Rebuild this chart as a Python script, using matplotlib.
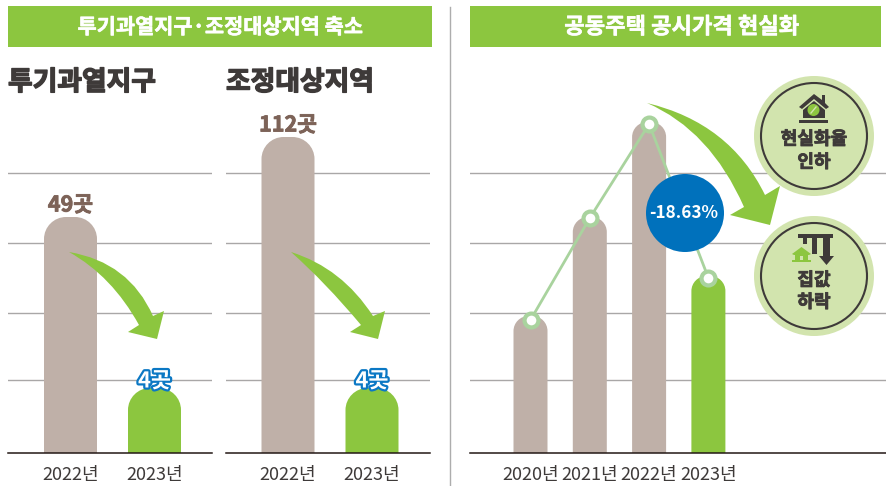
import matplotlib
matplotlib.use('Agg')
import matplotlib.pyplot as plt
import matplotlib.patheffects as pe
from matplotlib.patches import Circle, PathPatch, Polygon, Rectangle
from matplotlib.path import Path

plt.rcParams['font.family'] = ['Noto Sans CJK KR', 'DejaVu Sans']

# left panels
years_short = ['2022년', '2023년']
district_heights = [236, 65]
district_labels = ['49곳', '4곳']
adjust_heights = [316, 65]
adjust_labels = ['112곳', '4곳']

# right panel
years_long = ['2020년', '2021년', '2022년', '2023년']
price_heights = [137, 236, 331, 177]
price_line = [133, 235, 329, 175]

grid_levels = [73, 140, 210, 280]

GREEN = '#8CC63F'
BROWN = '#BFB0A8'
PALE = '#D2E4AE'
BLUE = '#0071BC'
LINE = '#A9D39E'
DARK = '#3E3A39'
LABEL = '#7D6358'

W, H = 887, 486
BASE = 453
TOP = 103

fig = plt.figure(figsize=(W / 100, H / 100), dpi=100)


def heavy(color, lw=0.6):
    return [pe.withStroke(linewidth=lw, foreground=color)]


def panel(x0, x1, first, step):
    ax = fig.add_axes([x0 / W, 1 - BASE / H, (x1 - x0) / W, (BASE - TOP) / H])
    ax.set_xlim((x0 - first) / step, (x1 - first) / step)
    ax.set_ylim(0, BASE - TOP)
    ax.set_yticks(grid_levels)
    ax.grid(axis='y', color='#A9A7A7', lw=1)
    ax.set_axisbelow(True)
    for s in ['left', 'right', 'top']:
        ax.spines[s].set_visible(False)
    ax.spines['bottom'].set_linewidth(1.1)
    ax.spines['bottom'].set_color('#231815')
    ax.tick_params(axis='both', length=0)
    ax.tick_params(axis='y', labelleft=False)
    ax.tick_params(axis='x', pad=9.5, labelsize=13, labelcolor=DARK)
    ax.patch.set_alpha(0)
    return ax


def round_bar(ax, x, h, w, rx, ry, color):
    # bar with a rounded top, in data units
    k = 0.55
    l, r = x - w / 2, x + w / 2
    verts = [(l, 0), (l, h - ry),
             (l, h - ry * (1 - k)), (l + rx * (1 - k), h), (l + rx, h),
             (r - rx, h),
             (r - rx * (1 - k), h), (r, h - ry * (1 - k)), (r, h - ry),
             (r, 0), (l, 0)]
    codes = [Path.MOVETO, Path.LINETO, Path.CURVE4, Path.CURVE4, Path.CURVE4, Path.LINETO,
             Path.CURVE4, Path.CURVE4, Path.CURVE4, Path.LINETO, Path.CLOSEPOLY]
    ax.add_patch(PathPatch(Path(verts, codes), fc=color, ec='none', zorder=2))


def small_panel(x0, x1, first, heights, labels):
    step = 84
    ax = panel(x0, x1, first, step)
    colors = [BROWN, GREEN]
    for i, h in enumerate(heights):
        round_bar(ax, i, h, 53 / step, 22 / step, 22, colors[i])
    ax.set_xticks(range(len(years_short)), years_short)
    t0 = ax.text(0, heights[0] + 12, labels[0], ha='center', va='center', fontsize=15.5,
                 fontweight='bold', color=LABEL, zorder=5)
    t0.set_path_effects(heavy(LABEL))
    t = ax.text(1, heights[1] + 7, labels[1], ha='center', va='center', fontsize=15.7,
                fontweight='bold', color='white', zorder=5)
    t.set_path_effects([pe.withStroke(linewidth=3.2, foreground='#0B78C4')])
    return ax


ax1 = small_panel(8, 212, 70.5, district_heights, district_labels)
ax2 = small_panel(226, 430, 288, adjust_heights, adjust_labels)

# price panel
step3 = 59.3
ax3 = panel(470, 887, 530.5, step3)
for i, h in enumerate(price_heights):
    round_bar(ax3, i, h, 34 / step3, 15 / step3, 15, GREEN if i == 3 else BROWN)
ax3.plot(range(4), price_line, color=LINE, lw=2, marker='o', ms=10, mfc='white',
         mec=LINE, mew=3, zorder=4, clip_on=False)
ax3.set_xticks(range(4), years_long)

# overlay in picture pixels for header strips and decoration
ov = fig.add_axes([0, 0, 1, 1], zorder=10)
ov.set_xlim(0, W)
ov.set_ylim(H, 0)
ov.axis('off')

ov.plot([450, 450], [7, 486], color='#ADADAD', lw=1)
ov.add_patch(Rectangle((8, 6), 424, 41, fc=GREEN, ec='none'))
ov.add_patch(Rectangle((470, 6), 411, 41, fc=GREEN, ec='none'))
ov.text(220, 27, '투기과열지구·조정대상지역 축소', ha='center', va='center', color='white',
        fontsize=15, fontweight='bold', path_effects=heavy('white', 0.4))
ov.text(682, 27, '공동주택 공시가격 현실화', ha='center', va='center', color='white',
        fontsize=16, fontweight='bold', path_effects=heavy('white', 0.4))
for x, s in [(8, '투기과열지구'), (226, '조정대상지역')]:
    ov.text(x, 82, s, ha='left', va='center', color=DARK, fontsize=19.3, fontweight='bold',
            path_effects=heavy(DARK, 1))


def swoosh(start, c_up, up, corner1, tip, corner2, inner, c_low):
    verts = [start, c_up, up, corner1, tip, corner2, inner, c_low, start, start]
    codes = [Path.MOVETO, Path.CURVE3, Path.CURVE3, Path.LINETO, Path.LINETO, Path.LINETO,
             Path.LINETO, Path.CURVE3, Path.CURVE3, Path.CLOSEPOLY]
    ov.add_patch(PathPatch(Path(verts, codes), fc=GREEN, ec='none', zorder=3))


swoosh((69, 252), (129, 262), (153, 316), (164, 311), (157, 339), (128, 332), (139, 325), (112, 276))
swoosh((291, 252), (342, 268), (373, 316), (385, 311), (378, 339), (350, 332), (361, 325), (325, 282))
swoosh((647, 103), (730, 123), (765, 195), (780, 186), (770, 225), (730, 215), (744, 207), (710, 130))

ov.add_patch(Circle((685, 213), 39, fc=BLUE, ec='none', zorder=4))
ov.text(684, 213, '-18.63%', ha='center', va='center', color='white', fontsize=12.4,
        fontweight='bold', zorder=5)

for cy, lines, offs in [(136, ['현실화율', '인하'], [3, 26]), (276, ['집값', '하락'], [4, 26])]:
    ov.add_patch(Circle((814, cy), 60, fc=PALE, ec='none', zorder=4))
    ov.add_patch(Circle((814, cy), 53, fc='none', ec=DARK, lw=1.5, zorder=5))
    for line, o in zip(lines, offs):
        ov.text(814, cy + o, line, ha='center', va='center', color=DARK, fontsize=13,
                fontweight='bold', zorder=6, path_effects=heavy(DARK, 0.6))

# house icon, top circle
ov.add_patch(Polygon([(799, 107), (814, 94), (822, 100), (822, 95), (825, 95), (825, 103), (829, 107),
                      (826, 109), (814, 99), (802, 109)], fc=DARK, ec='none', zorder=6))
ov.add_patch(Polygon([(803, 110), (814, 101), (825, 110), (825, 118), (803, 118)],
                     fc=DARK, ec='none', zorder=6))
ov.add_patch(Rectangle((799, 120), 29, 2.5, fc=DARK, ec='none', zorder=6))
ov.add_patch(Circle((813.5, 110), 6, fc=GREEN, ec='none', zorder=7))
ov.plot([811, 816], [113, 107], color=PALE, lw=1, zorder=8)

# falling bars icon, bottom circle
ov.add_patch(Rectangle((798, 234), 35, 3.5, fc=DARK, ec='none', zorder=6))
for x, y1 in [(803, 244), (812.5, 254)]:
    ov.add_patch(Rectangle((x, 236), 4.5, y1 - 236, fc=DARK, ec='none', zorder=6))
ov.add_patch(Polygon([(823, 236), (830, 236), (830, 256), (834, 256), (826.5, 265), (819, 256), (823, 256)],
                     fc=DARK, ec='none', zorder=6))
ov.add_patch(Polygon([(792, 254), (801.5, 247), (811, 254), (809, 255), (794, 255)], fc=GREEN, ec='none', zorder=6))
ov.add_patch(Rectangle((795, 255), 13, 5, fc=GREEN, ec='none', zorder=6))
ov.add_patch(Rectangle((792, 260), 19, 2, fc=GREEN, ec='none', zorder=6))
ov.add_patch(Rectangle((800, 255.5), 3, 4.5, fc=PALE, ec='none', zorder=7))

plt.savefig('out.png', dpi=100)
